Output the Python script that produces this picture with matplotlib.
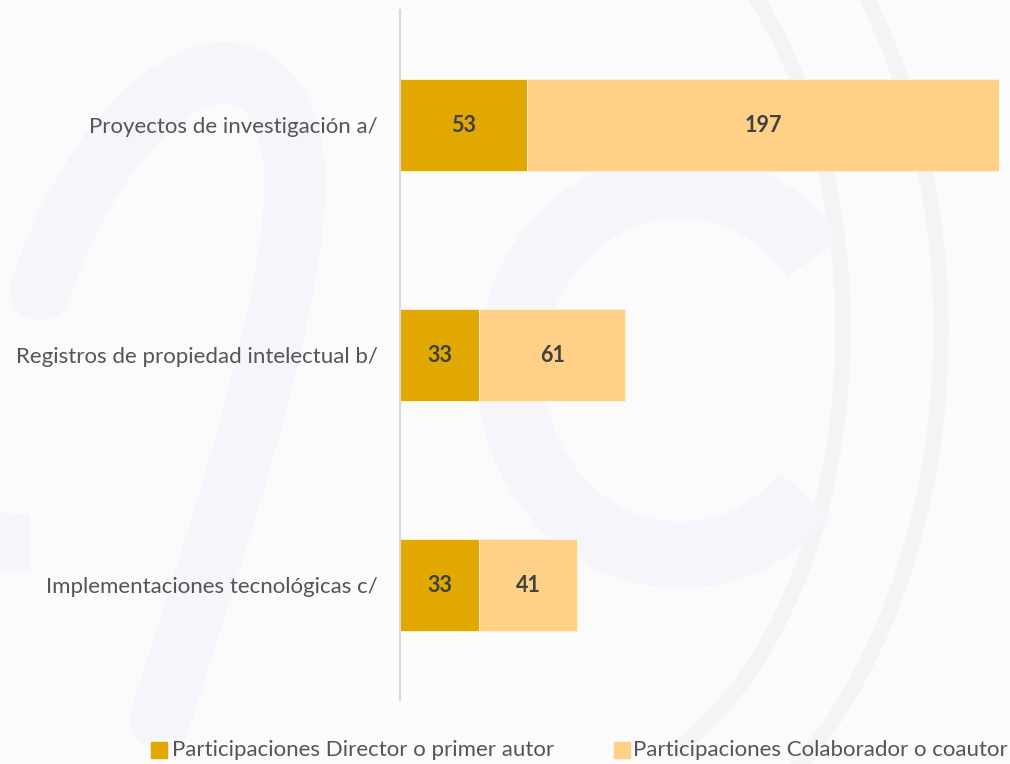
import matplotlib
matplotlib.use("Agg")
import matplotlib.pyplot as plt
from matplotlib.patches import Arc, Polygon, PathPatch
from matplotlib.path import Path

categories = ["Proyectos de investigación a/",
              "Registros de propiedad intelectual b/",
              "Implementaciones tecnológicas c/"]
director = [53, 33, 33]
colaborador = [197, 61, 41]
series_names = ["Participaciones Director o primer autor",
                "Participaciones Colaborador o coautor"]

c_dir = "#E0A800"
c_col = "#FFD088"
txt = "#404040"
txt_lbl = "#555555"
font = ["Lato", "DejaVu Sans"]

fig = plt.figure(figsize=(10.10, 7.64), dpi=100)
fig.patch.set_facecolor("#FBFBFC")

# faint watermark in background
bg = fig.add_axes([0, 0, 1, 1], zorder=0)
bg.set_xlim(0, 1010); bg.set_ylim(764, 0); bg.axis("off")
wm = "#F6F5FB"
wg = "#F4F4F5"
# gray outer arcs
bg.add_patch(Arc((560, 330), 566, 920, theta1=-80, theta2=75, lw=11, color=wg))
bg.add_patch(Arc((560, 330), 762, 1120, theta1=-80, theta2=75, lw=11, color=wg))
# purple C
bg.add_patch(Arc((680, 370), 340, 370, theta1=45, theta2=320, lw=48, color=wm))
# purple arch on the left
verts = [(40, 290), (120, 60), (280, 0), (295, 170), (300, 300), (210, 560), (160, 720)]
codes = [Path.MOVETO, Path.CURVE4, Path.CURVE4, Path.CURVE4, Path.CURVE4, Path.CURVE4, Path.CURVE4]
bg.add_patch(PathPatch(Path(verts, codes), fill=False, lw=44, edgecolor=wm, capstyle="round"))
bg.add_patch(Polygon([[0, 512], [30, 515], [30, 570], [0, 572]], closed=True, color=wm, lw=0))

ax = fig.add_axes([400/1010, 64/764, 599/1010, 690/764], zorder=1)
ax.patch.set_alpha(0)
y = list(range(len(categories)))
ax.barh(y, director, height=0.4, color=c_dir, edgecolor="#FFF3D6", linewidth=0.6)
ax.barh(y, colaborador, left=director, height=0.4, color=c_col, edgecolor="#FFF3D6", linewidth=0.6)
ax.set_xlim(0, 250)
ax.set_ylim(2.5, -0.5)

for i in y:
    ax.text(director[i] / 2, i, str(director[i]), ha="center", va="center",
            fontsize=15.5, fontweight="bold", color=txt, family=font)
    ax.text(director[i] + colaborador[i] / 2, i, str(colaborador[i]), ha="center",
            va="center", fontsize=15.5, fontweight="bold", color=txt, family=font)

ax.set_yticks(y)
ax.set_yticklabels(categories, fontsize=16, color=txt_lbl, family=font)
ax.tick_params(axis="y", length=0, pad=16)
ax.set_xticks([])
for s in ["top", "right", "bottom"]:
    ax.spines[s].set_visible(False)
ax.spines["left"].set_color("#D9D9D9")
ax.spines["left"].set_linewidth(1.5)

# legend
fig.patches.append(plt.Rectangle((151/1010, 1 - 758/764), 16/1010, 16/764,
                                 transform=fig.transFigure, color=c_dir, figure=fig))
fig.text(172/1010, 1 - 750/764, series_names[0], ha="left", va="center",
         fontsize=16, color=txt_lbl, family=font)
fig.patches.append(plt.Rectangle((614/1010, 1 - 758/764), 16/1010, 16/764,
                                 transform=fig.transFigure, color=c_col, figure=fig))
fig.text(633/1010, 1 - 750/764, series_names[1], ha="left", va="center",
         fontsize=16, color=txt_lbl, family=font)

fig.savefig("out.png", dpi=100, facecolor=fig.get_facecolor())
